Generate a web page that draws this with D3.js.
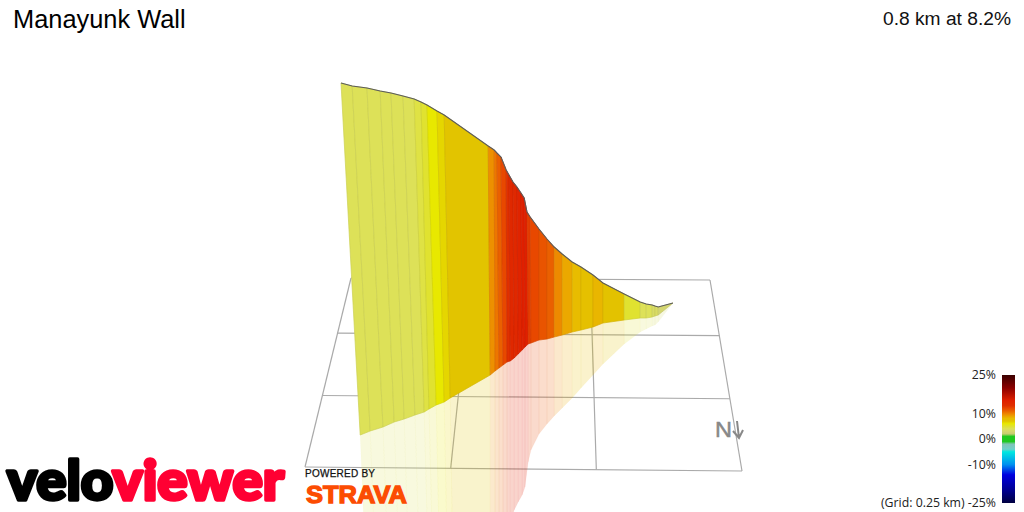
<!DOCTYPE html>
<html><head><meta charset="utf-8">
<style>html,body{margin:0;padding:0;background:#fff;overflow:hidden}svg{display:block}</style>
<script src="https://cdn.jsdelivr.net/npm/d3@7"></script></head><body>
<svg id="c" width="1024" height="512"></svg>
<script>
const titleText = "Manayunk Wall";
const summaryText = "0.8 km at 8.2%";
// wall stations, projected along-route metres
const stationAlong = [0,28,65,98,125,155,183,200,215,240,258,368,383,390,400,413,420,430,440,450,458,465,473,495,515,533,553,578,600,630,655,708,748,763,778,785,793,830];
const topHeight = [214.5,213,212,210.5,209.5,208,206.5,205,203.5,200.5,198.5,183,181,179.5,177.5,171,168.5,165,162.5,159.5,157,150,147.5,141.5,136.5,132.5,129,125,122.5,118.5,114.5,109,105,104,103.5,103,102.5,104.5];
const baseAlong = [48,73,105,133,158,185,208,220,238,258,273,373,385,395,405,415,423,433,443,453,460,468,475,495,515,533,553,578,600,630,655,708,748,763,778,785,793,830];
const baseHeight = [38.5,40.5,42.5,45,46.5,48.5,50,51.5,53.5,55,57,68.5,70.5,72,73.5,75,75.5,77,79,81,82.5,84,84.5,86,86.5,87.5,88.5,90,91,92.5,94.5,96,97,97,97.5,98,98.5,104.5];
const shadowHeight = [-144,-139,-134,-129,-124,-119,-114,-109,-104,-99,-94,-69,-54,-39,-24,-14,-6.5,1,5,8.5,12.5,25,31,39,44,48,52,57,62,68.5,74,84,90,91.5,93,93.5,95,104.5];
const shadowLean = [37,35,33,30,27,25,22,20,17,15,12];
const columnGrade = [4,4,4,4,4,4,4.5,5,6,6.5,7,9.5,10.3,11,12,13,14,14,14.5,15,15,12.5,12,11.5,11,9.7,8.7,8,7.5,8.2,7.2,5,4,4,3.5,3.5,3];
// gradient colour key
const gradeStops = [25,20,15,13,12,11,10,9,8,7,6,5,4,3,2,1,-1,-2,-4,-5,-10,-14,-20,-25];
const gradeColours = ["#3a0000","#8a0000","#e02000","#e03000","#e84800","#ea6000","#ee8000","#eca000","#e8bc00","#e2c400","#e8e800","#e0e230","#dde158","#d4d670","#c8cc70","#20c820","#20c820","#80c4b8","#70d0c8","#00e8e0","#0090f0","#0000e0","#000090","#000040"];
const legendTicks = [25,10,0,-10,-25];
const gridCellsAcross = [0,1,2,3];
const gridCellsDeep = [0,1,2,3];
const gridCornerFrontLeft = [305,467], gridCornerFrontRight = [742,471], gridCornerBackLeft = [351,278], gridCornerBackRight = [710,280];

const svg = d3.select("#c");
const x = d3.scaleLinear().domain([0,830]).range([341,673]);
const y = d3.scaleLinear().domain([0,256]).range([512,0]);
const colour = d3.scaleLinear().domain(gradeStops).range(gradeColours).interpolate(d3.interpolateRgb);

// ground grid, perspective projected
const persp = 437/359;
function ground(u,v){
  const a=u/3, b=v/3;
  const back=[0,1].map(k=>gridCornerBackLeft[k]+(gridCornerBackRight[k]-gridCornerBackLeft[k])*a);
  const front=[0,1].map(k=>gridCornerFrontLeft[k]+(gridCornerFrontRight[k]-gridCornerFrontLeft[k])*a);
  const w=(1-b)+b*persp;
  return [0,1].map(k=>((1-b)*front[k]+b*persp*back[k])/w);
}
const gridG = svg.append("g").attr("fill","none").attr("stroke","#aaa").attr("stroke-width",1.2);
gridCellsAcross.forEach(u=>gridG.append("path").attr("d",d3.line()([ground(u,0),ground(u,3)])));
gridCellsDeep.forEach(v=>gridG.append("path").attr("d",d3.line()([ground(0,v),ground(3,v)])));

const cols = columnGrade.map((g,i)=>({g,i}));
const sx = i=>x(baseAlong[i]+(shadowLean[i]||0));
// ground reflection
svg.append("g").selectAll("path").data(cols).join("path")
  .attr("d",d=>d3.line()([[x(baseAlong[d.i]),y(baseHeight[d.i])],[x(baseAlong[d.i+1]),y(baseHeight[d.i+1])],[sx(d.i+1),y(shadowHeight[d.i+1])],[sx(d.i),y(shadowHeight[d.i])]])+"Z")
  .attr("fill",d=>colour(d.g)).attr("fill-opacity",0.2)
  .attr("stroke",d=>colour(d.g)).attr("stroke-opacity",0.06).attr("stroke-width",0.6);

// wall
svg.append("g").selectAll("path").data(cols).join("path")
  .attr("d",d=>d3.line()([[x(stationAlong[d.i]),y(topHeight[d.i])],[x(stationAlong[d.i+1]),y(topHeight[d.i+1])],[x(baseAlong[d.i+1]),y(baseHeight[d.i+1])],[x(baseAlong[d.i]),y(baseHeight[d.i])]])+"Z")
  .attr("fill",d=>colour(d.g)).attr("stroke",d=>d3.color(colour(d.g)).darker(0.22)).attr("stroke-width",0.7);

// ridge line
svg.append("path").datum(stationAlong.map((s,i)=>[x(s),y(topHeight[i])]))
  .attr("d",d3.line()).attr("fill","none").attr("stroke","#5c5c5c").attr("stroke-width",1.1);

// north marker
const north = svg.append("g").attr("fill","#888").attr("stroke","#888");
north.append("text").attr("x",715).attr("y",437).attr("font-family","Liberation Sans").attr("font-size",22).attr("stroke-width",0.5).attr("textLength",17).attr("lengthAdjust","spacingAndGlyphs").text("N");
north.append("path").attr("d","M737,421L739,438M733,431L739,438L743,430").attr("fill","none").attr("stroke-width",2);

// titles
svg.append("text").attr("x",13).attr("y",28).attr("font-family","Liberation Sans").attr("font-size",25.4).attr("fill","#000").text(titleText);
svg.append("text").attr("x",1011).attr("y",25).attr("text-anchor","end").attr("font-family","Liberation Sans").attr("font-size",19.2).attr("fill","#111").text(summaryText);

// legend
const legendY = d3.scaleLinear().domain([25,-25]).range([375,503]);
const defs = svg.append("defs");
const lg = defs.append("linearGradient").attr("id","key").attr("x1",0).attr("x2",0).attr("y1",0).attr("y2",1);
gradeStops.forEach((s,i)=>lg.append("stop").attr("offset",(25-s)/50).attr("stop-color",gradeColours[i]));
svg.append("rect").attr("x",1002).attr("y",legendY(25)).attr("width",13).attr("height",legendY(-25)-legendY(25)).attr("fill","url(#key)");
const axis = svg.append("g").attr("transform","translate(1000,0)")
  .call(d3.axisLeft(legendY).tickValues(legendTicks).tickSize(0).tickPadding(4).tickFormat(d=>(d===-25?"(Grid: 0.25 km) ":"")+d+"%"));
axis.select(".domain").remove();
axis.selectAll("text").attr("font-family","Open Sans").attr("font-size",12.3).attr("fill","#222");

// logos
const logo = svg.append("text").attr("x",7).attr("y",500).attr("font-family","Lato").attr("font-weight",900).attr("font-size",56).attr("stroke-width",3.5).attr("stroke-linejoin","round").attr("textLength",277).attr("lengthAdjust","spacingAndGlyphs");
logo.append("tspan").attr("fill","#000").attr("stroke","#000").text("velo");
logo.append("tspan").attr("fill","#ff0033").attr("stroke","#ff0033").text("viewer");
svg.append("text").attr("x",305).attr("y",477).attr("font-family","Liberation Sans").attr("font-size",10).attr("stroke","#111").attr("stroke-width",0.25).attr("textLength",70).attr("fill","#111").text("POWERED BY");
svg.append("text").attr("x",306).attr("y",503).attr("font-family","Liberation Sans").attr("font-weight",700).attr("font-size",24).attr("stroke","#fc4c02").attr("stroke-width",1.3).attr("textLength",101).attr("lengthAdjust","spacingAndGlyphs").attr("fill","#fc4c02").text("STRAVA");
</script></body></html>
